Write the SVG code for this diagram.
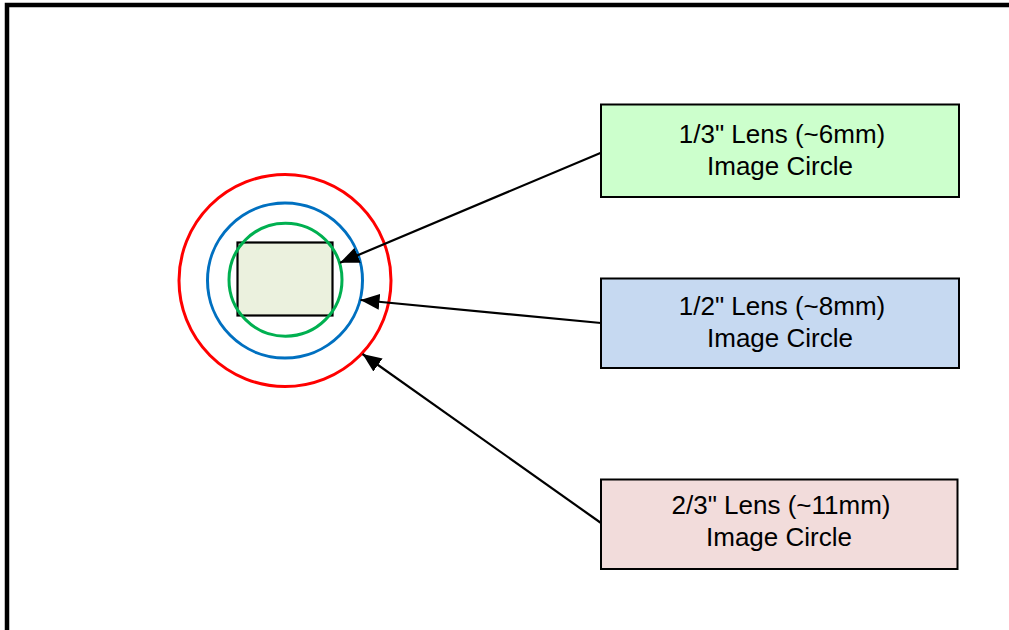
<svg xmlns="http://www.w3.org/2000/svg" width="1009" height="630" viewBox="0 0 1009 630">
  <style>
    .box { stroke: #000; stroke-width: 2; }
    .lbl { font-family: "Liberation Sans", Arial, sans-serif; font-size: 26px; fill: #000; text-anchor: middle; }
    .conn { stroke: #000; stroke-width: 2.2; fill: none; marker-end: url(#arrow); }
    .ring { fill: none; stroke-width: 3; }
  </style>
  <defs>
    <marker id="arrow" markerUnits="userSpaceOnUse" markerWidth="20" markerHeight="16" refX="19" refY="8" orient="auto">
      <path d="M0,0 L19,8 L0,16 Z" fill="#000"/>
    </marker>
  </defs>
  <rect width="1009" height="630" fill="#fff"/>
  <path d="M7,630 L7,5 L1009,5" fill="none" stroke="#000" stroke-width="4.5"/>

  <g id="sensor">
    <rect x="237.5" y="242.5" width="95" height="73" fill="#ebf1de" stroke="#000" stroke-width="2.2"/>
  </g>
  <g id="circle-23">
    <circle class="ring" cx="285" cy="280.5" r="106" stroke="#ff0000"/>
  </g>
  <g id="circle-12">
    <circle class="ring" cx="285" cy="280.5" r="77.5" stroke="#0070c0"/>
  </g>
  <g id="circle-13">
    <circle class="ring" cx="285.5" cy="279.7" r="56.5" stroke="#00b050"/>
  </g>

  <g id="connectors">
    <line class="conn" x1="601" y1="152.7" x2="340" y2="262.7"/>
    <line class="conn" x1="601" y1="323" x2="360.5" y2="300"/>
    <line class="conn" x1="601" y1="523" x2="362.5" y2="354"/>
  </g>

  <g id="box-13">
    <rect class="box" x="601" y="104.5" width="358" height="92.5" fill="#ccffcc"/>
    <text class="lbl" x="782" y="143">1/3" Lens (~6mm)</text>
    <text class="lbl" x="780" y="175">Image Circle</text>
  </g>
  <g id="box-12">
    <rect class="box" x="601" y="278.5" width="358" height="89.5" fill="#c6d9f1"/>
    <text class="lbl" x="782" y="315">1/2" Lens (~8mm)</text>
    <text class="lbl" x="780" y="347">Image Circle</text>
  </g>
  <g id="box-23">
    <rect class="box" x="601" y="479.5" width="356.5" height="89.5" fill="#f2dcdb"/>
    <text class="lbl" x="781" y="514">2/3" Lens (~11mm)</text>
    <text class="lbl" x="779" y="546">Image Circle</text>
  </g>
</svg>
